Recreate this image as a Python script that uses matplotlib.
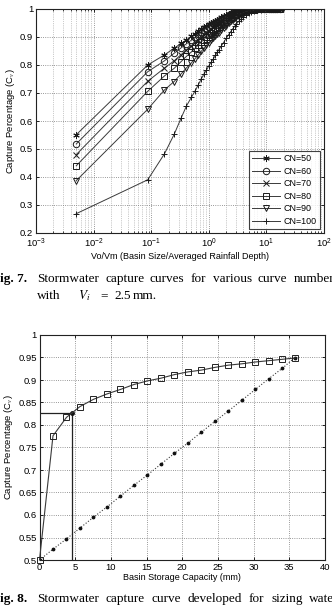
import numpy as np
import matplotlib
matplotlib.use("Agg")
import matplotlib.pyplot as plt

plt.rcParams['font.family'] = ['Liberation Sans', 'DejaVu Sans']
plt.rcParams['mathtext.fontset'] = 'stix'

# ==============================
# DATA: Fig. 7 (capture curves per curve number)
# ==============================
vo_vm = [0.005, 0.087, 0.17, 0.25, 0.33, 0.41, 0.50, 0.58, 0.66, 0.74, 0.82, 0.91, 1.0,
         1.1, 1.2, 1.3, 1.4, 1.5, 1.65, 1.8, 2.0, 2.2, 2.4, 2.6, 2.8, 3.0, 3.3, 3.6, 4.0,
         4.5, 5.0, 5.5, 6.0,
         7, 8, 9, 10, 11, 12, 13, 14, 15.5, 17]

cn50 = [0.551, 0.800, 0.836, 0.860, 0.877, 0.890, 0.902, 0.912, 0.920, 0.927, 0.934, 0.940, 0.946,
        0.950, 0.954, 0.958, 0.962, 0.966, 0.970, 0.974, 0.979, 0.982, 0.985, 0.988, 0.990, 0.992,
        0.994, 0.996, 0.997, 0.998, 0.999, 1.0, 1.0,
        1.0, 1.0, 1.0, 1.0, 1.0, 1.0, 1.0, 1.0, 1.0, 1.0]
cn60 = [0.518, 0.776, 0.815, 0.842, 0.861, 0.876, 0.889, 0.900, 0.909, 0.917, 0.924, 0.931, 0.937,
        0.942, 0.946, 0.950, 0.954, 0.958, 0.963, 0.967, 0.973, 0.977, 0.981, 0.984, 0.987, 0.989,
        0.992, 0.994, 0.996, 0.997, 0.998, 0.999, 1.0,
        1.0, 1.0, 1.0, 1.0, 1.0, 1.0, 1.0, 1.0, 1.0, 1.0]
cn70 = [0.480, 0.742, 0.789, 0.815, 0.837, 0.854, 0.869, 0.881, 0.891, 0.900, 0.908, 0.916, 0.923,
        0.929, 0.934, 0.939, 0.943, 0.948, 0.953, 0.958, 0.965, 0.970, 0.974, 0.978, 0.981, 0.984,
        0.988, 0.991, 0.993, 0.995, 0.997, 0.998, 0.999,
        1.0, 1.0, 1.0, 1.0, 1.0, 1.0, 1.0, 1.0, 1.0, 1.0]
cn80 = [0.440, 0.706, 0.761, 0.788, 0.812, 0.831, 0.847, 0.860, 0.872, 0.882, 0.891, 0.900, 0.908,
        0.915, 0.921, 0.927, 0.932, 0.937, 0.944, 0.950, 0.957, 0.963, 0.968, 0.973, 0.977, 0.980,
        0.985, 0.988, 0.991, 0.994, 0.996, 0.997, 0.998,
        0.999, 1.0, 1.0, 1.0, 1.0, 1.0, 1.0, 1.0, 1.0, 1.0]
cn90 = [0.387, 0.642, 0.711, 0.741, 0.768, 0.790, 0.808, 0.823, 0.837, 0.849, 0.860, 0.870, 0.880,
        0.888, 0.896, 0.903, 0.910, 0.916, 0.924, 0.932, 0.941, 0.949, 0.956, 0.962, 0.967, 0.972,
        0.978, 0.983, 0.987, 0.991, 0.993, 0.995, 0.997,
        0.998, 0.999, 1.0, 1.0, 1.0, 1.0, 1.0, 1.0, 1.0, 1.0]
cn100 = [0.269, 0.390, 0.483, 0.552, 0.610, 0.654, 0.685, 0.708, 0.730, 0.750, 0.767, 0.782, 0.797,
         0.810, 0.822, 0.834, 0.845, 0.855, 0.868, 0.880, 0.895, 0.908, 0.919, 0.929, 0.938, 0.946,
         0.956, 0.964, 0.972, 0.980, 0.986, 0.990, 0.993,
         0.996, 0.998, 0.999, 1.0, 1.0, 1.0, 1.0, 1.0, 1.0, 1.0]

cn_labels = ["CN=50", "CN=60", "CN=70", "CN=80", "CN=90", "CN=100"]

# ==============================
# DATA: Fig. 8 (capture curve for sizing)
# ==============================
storage_mm = [0, 1.89, 3.78, 5.67, 7.56, 9.45, 11.34, 13.23, 15.12, 17.01, 18.9,
              20.79, 22.68, 24.57, 26.46, 28.35, 30.24, 32.13, 34.02, 35.8]
capture = [0.50, 0.776, 0.817, 0.841, 0.857, 0.869, 0.879, 0.890, 0.898, 0.904, 0.912,
           0.918, 0.922, 0.928, 0.933, 0.936, 0.940, 0.943, 0.946, 0.949]
linear_ref = [0.500, 0.524, 0.547, 0.571, 0.595, 0.618, 0.642, 0.666, 0.689, 0.713, 0.737,
              0.760, 0.784, 0.808, 0.831, 0.855, 0.879, 0.903, 0.926, 0.950]
design_mm = 4.5
design_cv = 0.826

# caption words (justified lines, as in the scanned page)
cap7_words = ["Stormwater", "capture", "curves", "for", "various", "curve", "numbers"]
cap8_words = ["Stormwater", "capture", "curve", "developed", "for", "sizing", "water"]

line_col = "#3a3a3a"
W, H = 332, 611
fig = plt.figure(figsize=(W / 100, H / 100), dpi=100)


def style_axes(ax):
    ax.tick_params(direction='in', top=True, right=True, labelsize=6.8,
                   length=2.5, width=0.6, pad=2)
    ax.tick_params(which='minor', direction='in', top=True, right=True,
                   length=1.5, width=0.5)
    for s in ax.spines.values():
        s.set_linewidth(0.8)
        s.set_color("#222222")


# ----- top chart -----
ax1 = fig.add_axes([36 / W, 1 - 233 / H, 288 / W, 224 / H])
markers = [(6, 2, 0), 'o', 'x', 's', 'v', '+']
series = [cn50, cn60, cn70, cn80, cn90, cn100]
for ys, m, lab in zip(series, markers, cn_labels):
    ax1.plot(vo_vm, ys, color=line_col, lw=0.7, marker=m, markersize=4.6,
             markerfacecolor='none', markeredgecolor='#1a1a1a', markeredgewidth=0.7,
             label=lab)
ax1.set_xscale('log')
ax1.set_xlim(1e-3, 1e2)
ax1.set_ylim(0.2, 1.0)
ax1.set_yticks(np.arange(0.2, 1.01, 0.1))
ax1.set_yticklabels(["0.2", "0.3", "0.4", "0.5", "0.6", "0.7", "0.8", "0.9", "1"])
ax1.grid(True, which='major', ls=':', lw=0.6, color='#777777')
ax1.grid(True, which='minor', axis='x', ls=':', lw=0.5, color='#999999')
style_axes(ax1)
ax1.tick_params(axis='x', pad=3)
ax1.set_xlabel("Vo/Vm (Basin Size/Averaged Rainfall Depth)", fontsize=6.5, labelpad=1)
ax1.set_ylabel("Capture Percentage (C$_v$)", fontsize=6.8, labelpad=2)
leg = ax1.legend(loc='lower right', fontsize=6.4, frameon=True, fancybox=False,
                 borderpad=0.35, labelspacing=0.4, handlelength=3.2,
                 borderaxespad=0.45, handletextpad=0.4)
leg.get_frame().set_edgecolor('#111111')
leg.get_frame().set_linewidth(0.8)

# ----- bottom chart -----
ax2 = fig.add_axes([39.5 / W, 1 - 560 / H, 285.5 / W, 225 / H])
ax2.plot(storage_mm, linear_ref, color=line_col, ls=':', lw=0.8, marker='.',
         markersize=3.5, markerfacecolor='#111111', markeredgecolor='#111111')
ax2.plot(storage_mm, capture, color=line_col, lw=0.8, marker='s', markersize=4.5,
         markerfacecolor='none', markeredgecolor='#222222', markeredgewidth=0.7,
         clip_on=False, zorder=3)
ax2.plot([0, design_mm, design_mm], [design_cv, design_cv, 0.5], color='#222222', lw=0.9)
ax2.plot([design_mm], [design_cv], marker='o', markersize=2.5, color='#111111')
ax2.set_xlim(0, 40)
ax2.set_ylim(0.5, 1.0)
ax2.set_xticks(np.arange(0, 41, 5))
ax2.set_yticks(np.arange(0.5, 1.001, 0.05))
ax2.set_yticklabels(["0.5", "0.55", "0.6", "0.65", "0.7", "0.75", "0.8", "0.85",
                     "0.9", "0.95", "1"])
ax2.grid(True, ls=':', lw=0.6, color='#777777')
style_axes(ax2)
ax2.set_xlabel("Basin Storage Capacity (mm)", fontsize=6.5, labelpad=1)
ax2.set_ylabel("Capture Percentage (C$_v$)", fontsize=6.8, labelpad=2)

# ----- captions -----
cap = dict(fontsize=9.5, family=['Liberation Serif', 'DejaVu Serif'], va='baseline')
cap7_x = [37, 105, 150, 191, 213, 258, 294]
cap8_x = [37, 105.5, 151, 187.5, 248.5, 271, 309]

fig.text(-8 / W, 1 - 282 / H, "Fig. 7.", fontweight='bold', **cap)
for wd, xp in zip(cap7_words, cap7_x):
    fig.text(xp / W, 1 - 282 / H, wd, **cap)
fig.text(37 / W, 1 - 299 / H, "with", **cap)
fig.text(78 / W, 1 - 299 / H, r"$V_i$", **cap)
fig.text(100 / W, 1 - 299 / H, "=", **cap)
fig.text(114 / W, 1 - 299 / H, "2.5", **cap)
fig.text(133 / W, 1 - 299 / H, "mm.", **cap)

fig.text(-8 / W, 1 - 602 / H, "Fig. 8.", fontweight='bold', **cap)
for wd, xp in zip(cap8_words, cap8_x):
    fig.text(xp / W, 1 - 602 / H, wd, **cap)

fig.savefig("out.png", dpi=100)
